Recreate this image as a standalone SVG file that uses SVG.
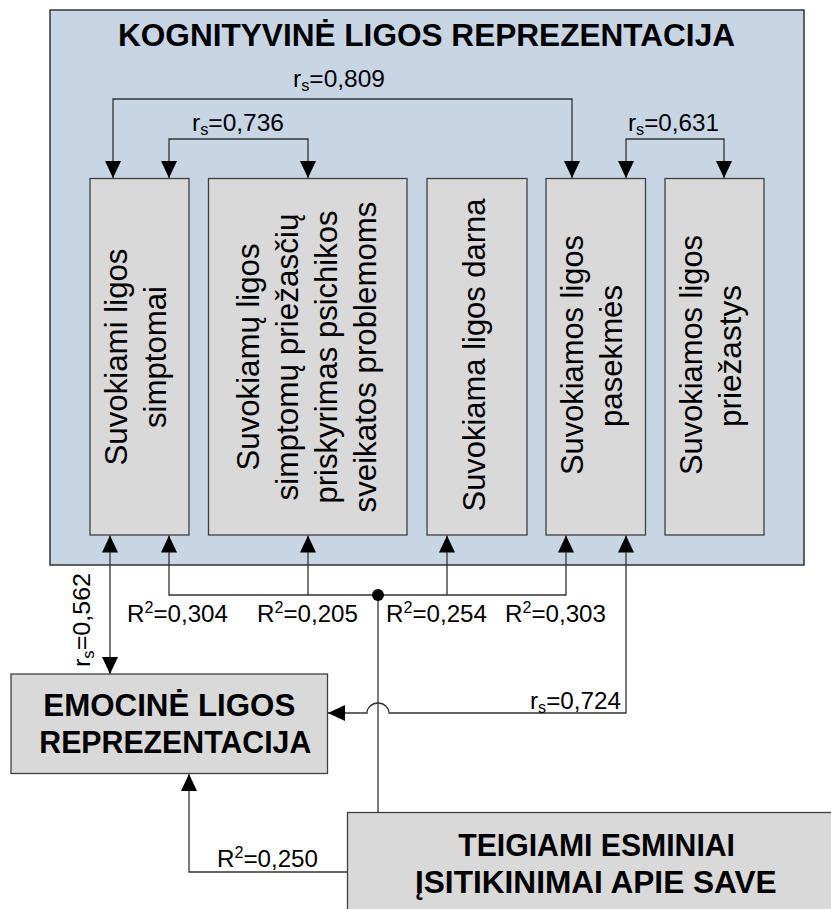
<svg xmlns="http://www.w3.org/2000/svg" width="831" height="909" viewBox="0 0 831 909">
<defs>
<style>
text{font-family:"Liberation Sans",Arial,sans-serif;fill:#000}
.box{fill:#D9D9D9;stroke:#404040;stroke-width:1.3}
.bt{font-size:31px}
.hd{font-size:31px;font-weight:bold}
.nb{font-size:31px;font-weight:bold}
.lb{font-size:24px}
.sm{font-size:16px}
.cn{fill:none;stroke:#333;stroke-width:1.3}
.ar{marker-end:url(#ah)}
.ar2{marker-start:url(#ah);marker-end:url(#ah)}
</style>
<marker id="ah" viewBox="0 0 17 16" refX="17" refY="8" markerWidth="17" markerHeight="16" markerUnits="userSpaceOnUse" orient="auto-start-reverse"><path d="M0,0 L17,8 L0,16 Z" fill="#000"/></marker>
</defs>
<rect width="831" height="909" fill="#fff"/>

<g id="kognityvine">
<rect x="50" y="10" width="754" height="555" fill="#C8D5E5" stroke="#333" stroke-width="1.5"/>
<text class="hd" x="118" y="46" textLength="617" lengthAdjust="spacingAndGlyphs">KOGNITYVINĖ LIGOS REPREZENTACIJA</text>
</g>

<g id="simptomai">
<rect class="box" x="90" y="178.5" width="99" height="356.5"/>
<text class="bt" transform="translate(127,357) rotate(-90)" text-anchor="middle" textLength="217" lengthAdjust="spacingAndGlyphs">Suvokiami ligos</text>
<text class="bt" transform="translate(165.5,357) rotate(-90)" text-anchor="middle" textLength="142" lengthAdjust="spacingAndGlyphs">simptomai</text>
</g>

<g id="priskyrimas">
<rect class="box" x="208.5" y="178.5" width="198.5" height="356.5"/>
<text class="bt" transform="translate(258.5,357) rotate(-90)" text-anchor="middle" textLength="227" lengthAdjust="spacingAndGlyphs">Suvokiamų ligos</text>
<text class="bt" transform="translate(297.5,357) rotate(-90)" text-anchor="middle" textLength="287" lengthAdjust="spacingAndGlyphs">simptomų priežasčių</text>
<text class="bt" transform="translate(336.5,357) rotate(-90)" text-anchor="middle" textLength="293" lengthAdjust="spacingAndGlyphs">priskyrimas psichikos</text>
<text class="bt" transform="translate(375.5,357) rotate(-90)" text-anchor="middle" textLength="311" lengthAdjust="spacingAndGlyphs">sveikatos problemoms</text>
</g>

<g id="darna">
<rect class="box" x="427" y="178.5" width="100" height="356.5"/>
<text class="bt" transform="translate(485,355) rotate(-90)" text-anchor="middle" textLength="313" lengthAdjust="spacingAndGlyphs">Suvokiama ligos darna</text>
</g>

<g id="pasekmes">
<rect class="box" x="546" y="178.5" width="99.5" height="356.5"/>
<text class="bt" transform="translate(583,355) rotate(-90)" text-anchor="middle" textLength="240" lengthAdjust="spacingAndGlyphs">Suvokiamos ligos</text>
<text class="bt" transform="translate(621.5,356) rotate(-90)" text-anchor="middle" textLength="142" lengthAdjust="spacingAndGlyphs">pasekmės</text>
</g>

<g id="priezastys">
<rect class="box" x="665" y="178.5" width="99" height="356.5"/>
<text class="bt" transform="translate(702,355) rotate(-90)" text-anchor="middle" textLength="240" lengthAdjust="spacingAndGlyphs">Suvokiamos ligos</text>
<text class="bt" transform="translate(740.5,356) rotate(-90)" text-anchor="middle" textLength="142" lengthAdjust="spacingAndGlyphs">priežastys</text>
</g>

<g id="emocine">
<rect class="box" x="11" y="674" width="316.5" height="99.5"/>
<text class="nb" x="43.3" y="716" textLength="252" lengthAdjust="spacingAndGlyphs">EMOCINĖ LIGOS</text>
<text class="nb" x="39.3" y="752.5" textLength="272" lengthAdjust="spacingAndGlyphs">REPREZENTACIJA</text>
</g>

<g id="teigiami">
<rect class="box" x="347.5" y="812.5" width="500" height="110"/>
<text class="nb" x="458.3" y="856" textLength="276.7" lengthAdjust="spacingAndGlyphs">TEIGIAMI ESMINIAI</text>
<text class="nb" x="415" y="892.5" textLength="361.7" lengthAdjust="spacingAndGlyphs">ĮSITIKINIMAI APIE SAVE</text>
</g>

<g id="connectors">
<path class="cn ar2" d="M113,178 V99 H572 V178"/>
<path class="cn ar2" d="M169,178 V139 H308 V178"/>
<path class="cn ar2" d="M626,178 V139 H724 V178"/>
<path class="cn ar2" d="M110,535.5 V674"/>
<path class="cn ar2" d="M169,535.5 V595 H566 V535.5"/>
<path class="cn ar" d="M308,595 V535.5"/>
<path class="cn ar" d="M447,595 V535.5"/>
<path class="cn" d="M378,595 V812.5" stroke="#000"/>
<circle cx="378" cy="595" r="6" fill="#000"/>
<path class="cn ar2" d="M626,535.5 V713 H389 A11,10 0 0 0 367,713 H328"/>
<path class="cn ar" d="M347.5,872 H189 V774"/>

<text class="lb" x="293" y="87" textLength="92" lengthAdjust="spacingAndGlyphs">r<tspan class="sm" dy="4">s</tspan><tspan dy="-4">=0,809</tspan></text>
<text class="lb" x="192" y="130.5" textLength="92" lengthAdjust="spacingAndGlyphs">r<tspan class="sm" dy="4">s</tspan><tspan dy="-4">=0,736</tspan></text>
<text class="lb" x="628" y="130.5" textLength="91" lengthAdjust="spacingAndGlyphs">r<tspan class="sm" dy="4">s</tspan><tspan dy="-4">=0,631</tspan></text>
<text class="lb" x="530" y="708.5" textLength="91" lengthAdjust="spacingAndGlyphs">r<tspan class="sm" dy="4">s</tspan><tspan dy="-4">=0,724</tspan></text>
<text class="lb" transform="translate(90,667) rotate(-90)" textLength="94" lengthAdjust="spacingAndGlyphs">r<tspan class="sm" dy="4">s</tspan><tspan dy="-4">=0,562</tspan></text>

<text class="lb" x="127" y="622" textLength="101" lengthAdjust="spacingAndGlyphs">R<tspan class="sm" dy="-9">2</tspan><tspan dy="9">=0,304</tspan></text>
<text class="lb" x="257" y="622" textLength="101" lengthAdjust="spacingAndGlyphs">R<tspan class="sm" dy="-9">2</tspan><tspan dy="9">=0,205</tspan></text>
<text class="lb" x="386" y="622" textLength="101" lengthAdjust="spacingAndGlyphs">R<tspan class="sm" dy="-9">2</tspan><tspan dy="9">=0,254</tspan></text>
<text class="lb" x="505" y="622" textLength="101" lengthAdjust="spacingAndGlyphs">R<tspan class="sm" dy="-9">2</tspan><tspan dy="9">=0,303</tspan></text>
<text class="lb" x="217" y="866.5" textLength="101" lengthAdjust="spacingAndGlyphs">R<tspan class="sm" dy="-9">2</tspan><tspan dy="9">=0,250</tspan></text>
</g>
</svg>
